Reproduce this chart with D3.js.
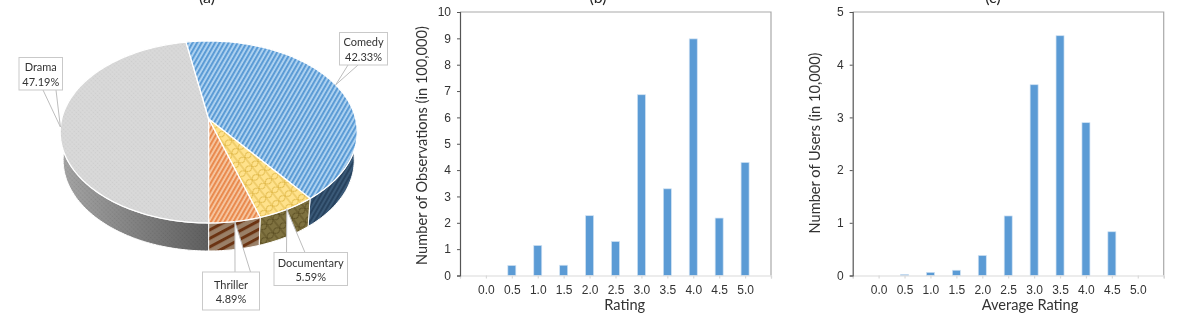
<!DOCTYPE html>
<html>
<head>
<meta charset="utf-8">
<title>Genre and rating distributions</title>
<script src="https://d3js.org/d3.v7.min.js"></script>
<style>
  html, body { margin: 0; padding: 0; background: #fff; }
  svg { display: block; filter: blur(0.35px); font-family: Lato, "Open Sans", sans-serif; }
  .frame { fill: none; stroke: #a9a9a9; stroke-width: 1.2; }
  .axis text { fill: #333; font-size: 12px; }
  .title { fill: #262626; font-size: 16px; text-anchor: middle; }
</style>
</head>
<body>
<svg width="1196" height="318"></svg>
<script>
// genre share, %
var genres = ["Drama", "Comedy", "Documentary", "Thriller"];
var shares = [47.19, 42.33, 5.59, 4.89];

// rating histograms
var ratings = [0, 0.5, 1, 1.5, 2, 2.5, 3, 3.5, 4, 4.5, 5];
var observations = [0, 0.38, 1.14, 0.39, 2.27, 1.29, 6.86, 3.29, 8.98, 2.18, 4.29];
var users = [0, 0.02, 0.06, 0.1, 0.38, 1.13, 3.62, 4.55, 2.9, 0.83, 0];
var observationTicks = [0, 1, 2, 3, 4, 5, 6, 7, 8, 9, 10];
var userTicks = [0, 1, 2, 3, 4, 5];

var svg = d3.select("svg");
var defs = svg.append("defs");

function stripes(id, w, dark, light, angle, band) {
  var p = defs.append("pattern").attr("id", id).attr("patternUnits", "userSpaceOnUse")
    .attr("width", w).attr("height", w).attr("patternTransform", "rotate(" + angle + ")");
  p.append("rect").attr("width", w).attr("height", w).attr("fill", light);
  p.append("rect").attr("width", band).attr("height", w).attr("fill", dark);
}
function dots(id, bg, dot) {
  var p = defs.append("pattern").attr("id", id).attr("patternUnits", "userSpaceOnUse")
    .attr("width", 3).attr("height", 3).attr("patternTransform", "rotate(45)");
  p.append("rect").attr("width", 3).attr("height", 3).attr("fill", bg);
  p.append("circle").attr("cx", 1.5).attr("cy", 1.5).attr("r", 0.8).attr("fill", dot);
}
function shingle(id, bg, line) {
  var p = defs.append("pattern").attr("id", id).attr("patternUnits", "userSpaceOnUse")
    .attr("width", 8).attr("height", 11).attr("patternTransform", "rotate(-38)");
  p.append("rect").attr("width", 8).attr("height", 11).attr("fill", bg);
  p.append("path").attr("fill", "none").attr("stroke", line).attr("stroke-width", 1)
    .attr("d", "M0,0Q4,5.5 8,0M0,11Q4,5.5 8,11M0,0V11M8,0V11");
}
stripes("topComedy", 3.9, "#5b9bd5", "#b3d5f2", 30, 2.1);
stripes("topThriller", 3.9, "#e98a4e", "#f7c9a4", 30, 2.1);
stripes("sideComedy", 3.9, "#27425e", "#3b5a78", 30, 2);
stripes("sideThriller", 7.5, "#6b3413", "#9a8068", 62, 3);
shingle("topDoc", "#ffe28c", "#e2bb4c");
shingle("sideDoc", "#7f7240", "#5d5024");
dots("topDrama", "#d9d9d9", "#cdcdcd");
dots("sideDots", "rgba(255,255,255,0)", "rgba(0,0,0,0.09)");

var grad = defs.append("linearGradient").attr("id", "sideDrama").attr("gradientUnits", "userSpaceOnUse")
  .attr("x1", 60).attr("x2", 209).attr("y1", 0).attr("y2", 0);
grad.append("stop").attr("offset", 0).attr("stop-color", "#a6a6a6");
grad.append("stop").attr("offset", 1).attr("stop-color", "#5f5f5f");

// ---- pie, tilted with a perspective so the apex sits above the ellipse centre
var pieCx = 208.7, pieCy = 119, pieR = 147, pieS = 89.14, tilt = 1 / 7, depth = 28;

function project(a) {
  var u = Math.sin(a), v = -Math.cos(a), w = 1 - tilt * v;
  return [pieCx + pieR * u / w, pieCy + pieS * v / w];
}
function projectLow(a) {
  var p = project(a);
  return [pieCx + (p[0] - pieCx) * 0.98, p[1] + depth];
}
function rim(a0, a1) {
  var n = Math.max(2, Math.ceil((a1 - a0) / 0.02));
  return d3.range(n + 1).map(function(i) { return a0 + (a1 - a0) * i / n; });
}

var arcs = d3.pie().sort(null).startAngle(Math.PI).endAngle(3 * Math.PI)(shares);
var line = d3.line();
var topFill = ["url(#topDrama)", "url(#topComedy)", "url(#topDoc)", "url(#topThriller)"];
var sideFill = ["url(#sideDrama)", "url(#sideComedy)", "url(#sideDoc)", "url(#sideThriller)"];

var pie = svg.append("g");

function sidePath(d) {
  var a = rim(d.startAngle, d.endAngle);
  return line(a.map(project).concat(a.slice().reverse().map(projectLow))) + "Z";
}
pie.selectAll("path.side").data(arcs).enter().append("path")
  .attr("class", "side")
  .attr("d", sidePath)
  .attr("fill", function(d, i) { return sideFill[i]; })
  .attr("stroke", "#fff").attr("stroke-width", 1);
pie.append("path").datum(arcs[0]).attr("d", sidePath).attr("fill", "url(#sideDots)");

pie.selectAll("path.top").data(arcs).enter().append("path")
  .attr("class", "top")
  .attr("d", function(d) {
    return line([[pieCx, pieCy]].concat(rim(d.startAngle, d.endAngle).map(project))) + "Z";
  })
  .attr("fill", function(d, i) { return topFill[i]; })
  .attr("stroke", "#fff").attr("stroke-width", 1.3).attr("stroke-linejoin", "round");

// callouts: box plus a wedge pointing at the middle of the slice rim
var boxes = [
  { x: 19, y: 57.5, w: 43.5, h: 32.5, a: 43, b: 56 },
  { x: 339.5, y: 32.5, w: 48, h: 32.5, a: 348, b: 358 },
  { x: 274, y: 252.5, w: 73.5, h: 33, a: 286.5, b: 305 },
  { x: 202.5, y: 272, w: 57, h: 38, a: 235, b: 250.5 }
];
var callout = svg.append("g").selectAll("g").data(arcs).enter().append("g");

callout.append("path")
  .attr("d", function(d, i) {
    var b = boxes[i], tip = project((d.startAngle + d.endAngle) / 2);
    var edge = i < 2 ? b.y + b.h : b.y;
    return line([[b.a, edge], tip, [b.b, edge]]);
  })
  .attr("fill", "#fff").attr("stroke", "#bdbdbd").attr("stroke-width", 1);
callout.append("rect")
  .attr("x", function(d, i) { return boxes[i].x; })
  .attr("y", function(d, i) { return boxes[i].y; })
  .attr("width", function(d, i) { return boxes[i].w; })
  .attr("height", function(d, i) { return boxes[i].h; })
  .attr("fill", "#fff").attr("stroke", "#c9c9c9").attr("stroke-width", 1);
callout.append("text")
  .attr("text-anchor", "middle").attr("font-size", 11).attr("fill", "#333")
  .attr("x", function(d, i) { return boxes[i].x + boxes[i].w / 2; })
  .attr("y", function(d, i) { return boxes[i].y + boxes[i].h / 2 - 2.5; })
  .text(function(d, i) { return genres[i]; });
callout.append("text")
  .attr("text-anchor", "middle").attr("font-size", 11).attr("fill", "#333")
  .attr("x", function(d, i) { return boxes[i].x + boxes[i].w / 2; })
  .attr("y", function(d, i) { return boxes[i].y + boxes[i].h / 2 + 12; })
  .text(function(d) { return d.value.toFixed(2) + "%"; });

svg.append("text").attr("class", "title").attr("x", 207).attr("y", 3).text("(a)");

// ---- histograms
function histogram(opts) {
  var x = d3.scaleLinear().domain([-0.5, 5.5]).range([opts.left, opts.right]);
  var y = d3.scaleLinear().domain([0, opts.yTicks[opts.yTicks.length - 1]]).range([275.5, 12]);
  var g = svg.append("g");

  g.append("path").attr("class", "frame")
    .attr("d", "M" + opts.left + ",12H" + opts.right + "V275.5");

  g.selectAll("rect").data(d3.zip(ratings, opts.values).filter(function(d) { return d[1] > 0; }))
    .enter().append("rect")
    .attr("x", function(d) { return x(d[0]) - 4; })
    .attr("width", 8)
    .attr("y", function(d) { return y(d[1]); })
    .attr("height", function(d) { return y(0) - y(d[1]); })
    .attr("fill", "#5b9bd5").attr("stroke", "#cfe2f3").attr("stroke-width", 0.7);

  var xAxis = g.append("g").attr("class", "axis")
    .attr("transform", "translate(0,275.5)")
    .call(d3.axisBottom(x).tickValues([-0.5].concat(ratings, [5.5])).tickSize(3).tickPadding(7)
      .tickFormat(function(d) { return d < 0 || d > 5 ? "" : d3.format(".1f")(d); }));
  xAxis.selectAll("path,line").attr("stroke", "#d9d9d9").attr("stroke-width", 1.2);

  var yAxis = g.append("g").attr("class", "axis")
    .attr("transform", "translate(" + opts.left + ",0)")
    .call(d3.axisLeft(y).tickValues(opts.yTicks).tickFormat(d3.format("d")).tickSize(3).tickPadding(6));
  yAxis.select("path").attr("stroke", "#555").attr("stroke-width", 1.2);
  yAxis.selectAll("line").attr("stroke", "#555");

  g.append("text").attr("text-anchor", "middle").attr("font-size", 14.6).attr("fill", "#333")
    .attr("x", opts.xLabelAt).attr("y", 310).text(opts.xLabel);
  g.append("text").attr("text-anchor", "middle").attr("font-size", 14.6).attr("fill", "#333")
    .attr("transform", "translate(" + opts.yLabelAt + "," + opts.yLabelMid + ")rotate(-90)")
    .text(opts.yLabel);
  g.append("text").attr("class", "title").attr("x", opts.titleAt).attr("y", 3).text(opts.title);
}

histogram({
  left: 460, right: 771, values: observations, yTicks: observationTicks,
  xLabel: "Rating", xLabelAt: 624.7, yLabel: "Number of Observations (in 100,000)",
  yLabelAt: 427, yLabelMid: 145.5, title: "(b)", titleAt: 598
});
histogram({
  left: 852.7, right: 1163.7, values: users, yTicks: userTicks,
  xLabel: "Average Rating", xLabelAt: 1030, yLabel: "Number of Users (in 10,000)",
  yLabelAt: 820, yLabelMid: 143, title: "(c)", titleAt: 993
});
</script>
</body>
</html>
